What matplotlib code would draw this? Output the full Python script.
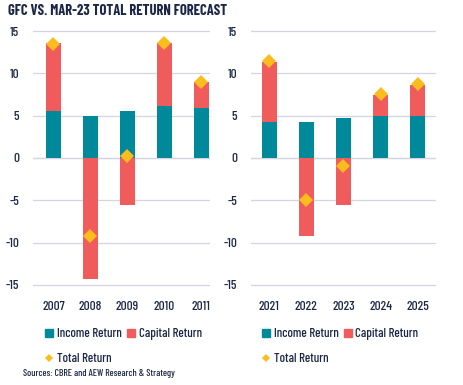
import matplotlib
matplotlib.use("Agg")
import matplotlib.pyplot as plt
from matplotlib.lines import Line2D
from matplotlib.patches import Patch

plt.rcParams["font.family"] = ["Barlow Condensed", "DejaVu Sans"]
plt.rcParams["font.weight"] = 500

# GFC years
gfc_years = ["2007", "2008", "2009", "2010", "2011"]
gfc_income = [5.5, 5.0, 5.6, 6.1, 5.9]
gfc_capital = [8.1, -14.3, -5.5, 7.5, 3.1]
gfc_total = [13.5, -9.2, 0.2, 13.6, 9.0]

# Mar-23 forecast years
fc_years = ["2021", "2022", "2023", "2024", "2025"]
fc_income = [4.2, 4.2, 4.7, 5.0, 5.0]
fc_capital = [7.2, -9.2, -5.6, 2.5, 3.6]
fc_total = [11.5, -5.0, -0.9, 7.6, 8.7]

TEAL = "#00899b"
RED = "#f05b5b"
GOLD = "#fbbd1d"
NAVY = "#1c2747"
GRID = "#d3d6e0"

fig = plt.figure(figsize=(4.64, 3.85), dpi=100)


def draw_panel(ax, years, income, capital, total, xlim, leg_x):
    x = list(range(len(years)))
    bottoms = [inc if cap > 0 else 0 for inc, cap in zip(income, capital)]
    ax.bar(x, income, width=0.41, color=TEAL, zorder=2)
    ax.bar(x, capital, width=0.41, bottom=bottoms, color=RED, zorder=2)
    ax.plot(x, total, linestyle="none", marker="D", markersize=7,
            color=GOLD, markeredgewidth=0, zorder=3)
    ax.set_ylim(-15.6, 15.6)
    ax.set_xlim(*xlim)
    ax.set_yticks([-15, -10, -5, 0, 5, 10, 15])
    ax.set_yticklabels(["-15", "-10", "-5", "0", "5", "10", "15"])
    ax.set_xticks(x)
    ax.set_xticklabels(years)
    ax.grid(axis="y", color=GRID, linewidth=0.9, zorder=0)
    ax.axhline(0, color=GRID, linewidth=0.9, zorder=1)
    for s in ax.spines.values():
        s.set_visible(False)
    ax.tick_params(length=0, colors=NAVY, labelsize=9.5, pad=8)
    ax.tick_params(axis="y", pad=10)
    handles = [Patch(color=TEAL, label="Income Return"),
               Line2D([], [], linestyle="none", marker="D", markersize=4.5,
                      color=GOLD, markeredgewidth=0, label="Total Return"),
               Patch(color=RED, label="Capital Return")]
    leg = ax.legend(handles=handles, ncol=2, loc="upper left",
                    bbox_to_anchor=(leg_x, -0.145), frameon=False,
                    fontsize=9.3, handlelength=0.6, handleheight=0.6,
                    handletextpad=0.3, columnspacing=0.4, labelspacing=1.0,
                    borderaxespad=0, borderpad=0)
    for t in leg.get_texts():
        t.set_color(NAVY)


ax1 = fig.add_axes([33 / 464, 1 - 290 / 385, 177 / 464, 264 / 385])
draw_panel(ax1, gfc_years, gfc_income, gfc_capital, gfc_total, (-0.55, 4.24), 0.07)

ax2 = fig.add_axes([251 / 464, 1 - 290 / 385, 185 / 464, 264 / 385])
draw_panel(ax2, fc_years, fc_income, fc_capital, fc_total, (-0.49, 4.49), 0.06)

fig.text(8 / 464, 1 - 11 / 385, "GFC VS. MAR-23 TOTAL RETURN FORECAST",
         fontsize=10.5, fontweight="bold", color=NAVY, va="center")
fig.text(23 / 464, 1 - 374 / 385, "Sources: CBRE and AEW Research & Strategy",
         fontsize=7, color=NAVY, va="center")

fig.savefig("out.png", dpi=100)
